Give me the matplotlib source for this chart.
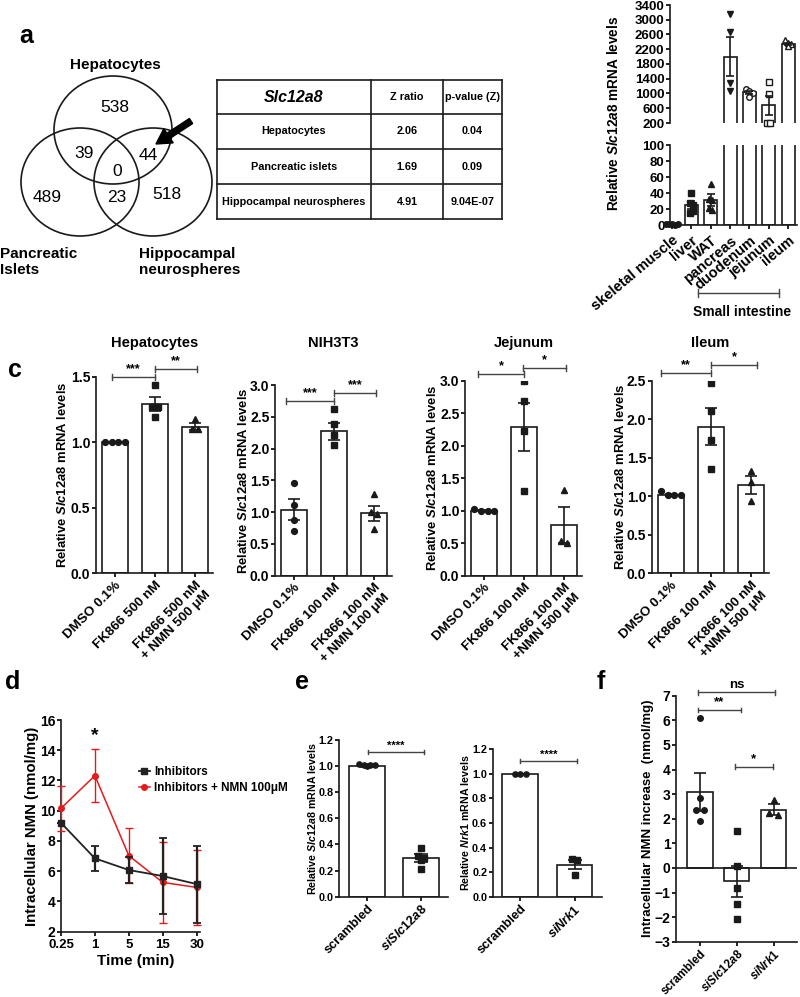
import matplotlib
matplotlib.use("Agg")
import matplotlib.pyplot as plt
import numpy as np
from matplotlib.lines import Line2D
from matplotlib.patches import Ellipse, FancyArrow

W, H = 800, 997
RED = "#e41a1c"
INK = "#1a1a1a"

# ---- panel a -------------------------------------------------------------
VENN_SETS = ["Hepatocytes", "Pancreatic\nIslets", "Hippocampal\nneurospheres"]
VENN_COUNTS = [538, 489, 518, 39, 44, 23, 0]  # hep, pan, hip, hep&pan, hep&hip, pan&hip, all
TABLE_HEADER = ["Slc12a8", "Z ratio", "p-value (Z)"]
TABLE_ROWS = ["Hepatocytes", "Pancreatic islets", "Hippocampal neurospheres"]
TABLE_Z = ["2.06", "1.69", "4.91"]
TABLE_P = ["0.04", "0.09", "9.04E-07"]

# ---- panel b -------------------------------------------------------------
B_TISSUES = ["skeletal muscle", "liver", "WAT", "pancreas", "duodenum", "jejunum", "ileum"]
B_MEANS = [1, 25, 31, 2000, 1030, 680, 2350]
B_SEMS = [0.3, 5, 7.5, 520, 45, 265, 30]
B_POINTS = [
    [1.5, 1.0, 0.8, 0.6, 1.1],
    [40, 27, 25, 15, 17],
    [51, 33, 31, 21, 19],
    [3160, 2660, 1280, 1070],
    [1120, 1080, 1010, 900],
    [1300, 990, 200, 200],
    [2440, 2380, 2330, 2300],
]
B_MARKERS = ["o", "s", "^", "v", "o", "s", "^"]
B_FILLED = [True, True, True, True, False, False, False]

# ---- panel c -------------------------------------------------------------
C_TITLES = ["Hepatocytes", "NIH3T3", "Jejunum", "Ileum"]
C_XLABELS = [
    ["DMSO 0.1%", "FK866 500 nM", "FK866 500 nM\n+ NMN 500 μM"],
    ["DMSO 0.1%", "FK866 100 nM", "FK866 100 nM\n+ NMN 100 μM"],
    ["DMSO 0.1%", "FK866 100 nM", "FK866 100 nM\n+NMN 500 μM"],
    ["DMSO 0.1%", "FK866 100 nM", "FK866 100 nM\n+NMN 500 μM"],
]
C_YMAX = [1.5, 3.0, 3.0, 2.5]
C_MEANS = [
    [1.00, 1.29, 1.12],
    [1.04, 2.27, 0.98],
    [1.00, 2.29, 0.78],
    [1.02, 1.90, 1.15],
]
C_SEMS = [
    [0.005, 0.055, 0.03],
    [0.17, 0.13, 0.12],
    [0.01, 0.37, 0.27],
    [0.015, 0.24, 0.115],
]
C_POINTS = [
    [[1.0, 1.0, 1.0, 1.0], [1.44, 1.27, 1.27, 1.19], [1.18, 1.10, 1.10]],
    [[1.46, 1.12, 0.88, 0.70], [2.62, 2.38, 2.21, 2.06], [1.28, 1.00, 0.97, 0.74]],
    [[1.02, 1.0, 1.0, 1.0], [3.0, 2.69, 2.23, 1.30], [1.32, 0.53, 0.50]],
    [[1.07, 1.02, 1.02, 1.02], [2.47, 2.11, 1.73, 1.35], [1.33, 1.18, 0.94]],
]
C_SIG = [
    [(-0.08, 1.0, 1.50, "***"), (1.0, 2.05, 1.56, "**")],
    [(-0.2, 1.0, 2.75, "***"), (1.0, 2.05, 2.87, "***")],
    [(-0.15, 1.0, 3.10, "*"), (0.97, 2.05, 3.20, "*")],
    [(-0.25, 1.0, 2.60, "**"), (1.0, 2.15, 2.70, "*")],
]
GROUP_MARKERS = ["o", "s", "^"]

# ---- panel d -------------------------------------------------------------
D_TIMES = ["0.25", "1", "5", "15", "30"]
D_INH = [9.2, 6.85, 6.08, 5.68, 5.15]
D_INH_ERR = [0.0, 0.85, 0.85, 2.5, 2.55]
D_NMN = [10.16, 12.32, 7.03, 5.26, 4.93]
D_NMN_ERR = [1.5, 1.75, 1.8, 2.7, 2.5]

# ---- panel e -------------------------------------------------------------
E_GROUPS = [["scrambled", r"$\mathit{siSlc12a8}$"], ["scrambled", r"$\mathit{siNrk1}$"]]
E_YLABELS = [r"Relative $\mathit{Slc12a8}$ mRNA levels", r"Relative $\mathit{Nrk1}$ mRNA levels"]
E_MEANS = [[1.0, 0.294], [1.0, 0.262]]
E_SEMS = [[0.005, 0.03], [0.002, 0.04]]
E_POINTS = [
    [[1.02, 1.005, 1.005, 1.005, 1.0], [0.37, 0.31, 0.30, 0.28, 0.21]],
    [[1.0, 1.0, 1.0], [0.31, 0.30, 0.18]],
]

# ---- panel f -------------------------------------------------------------
F_GROUPS = ["scrambled", r"$\mathit{siSlc12a8}$", r"$\mathit{siNrk1}$"]
F_MEANS = [3.10, -0.55, 2.36]
F_SEMS = [0.77, 0.64, 0.22]
F_POINTS = [[6.1, 2.85, 2.35, 2.35, 1.92], [1.5, 0.08, -0.83, -1.47, -2.09], [2.76, 2.24, 2.15]]


def style() -> None:
    plt.rcParams.update({
        "font.family": ["Liberation Sans", "DejaVu Sans"],
        "font.weight": "bold",
        "axes.labelweight": "bold",
        "mathtext.fontset": "custom",
        "mathtext.it": "Liberation Sans:italic:bold",
        "mathtext.rm": "Liberation Sans:bold",
        "mathtext.bf": "Liberation Sans:bold",
        "axes.linewidth": 1.2,
        "axes.edgecolor": INK,
        "xtick.major.width": 1.2,
        "ytick.major.width": 1.2,
        "xtick.major.size": 3,
        "ytick.major.size": 3,
        "xtick.major.pad": 1.2,
        "ytick.major.pad": 1.0,
    })


def axes_px(fig, left, top, right, bottom):
    return fig.add_axes([left / W, 1 - bottom / H, (right - left) / W, (bottom - top) / H])


def fig_text(fig, x, y, s, **kw):
    return fig.text(x / W, 1 - y / H, s, **kw)


def prism(ax, fs):
    for side in ("top", "right"):
        ax.spines[side].set_visible(False)
    ax.tick_params(labelsize=fs)


def swarm(values, tol, step):
    values = np.asarray(values, float)
    offsets = np.zeros(len(values))
    used = np.zeros(len(values), bool)
    for i in range(len(values)):
        if used[i]:
            continue
        cluster = [j for j in range(len(values)) if not used[j] and abs(values[j] - values[i]) < tol]
        for m, j in enumerate(cluster):
            offsets[j] = (m - (len(cluster) - 1) / 2) * step
            used[j] = True
    return offsets


def bar_panel(ax, means, sems, points, markers, width, tol, step, ms, capsize, filled=None):
    x = np.arange(len(means))
    ax.bar(x, means, width=width, color="white", edgecolor=INK, linewidth=1.2, zorder=1)
    for i, pts in enumerate(points):
        off = swarm(pts, tol, step)
        fc = INK if (filled is None or filled[i]) else "white"
        ax.plot(i + off, pts, linestyle="none", marker=markers[i], ms=ms, mfc=fc, mec=INK,
                mew=1.0, zorder=3)
    ax.errorbar(x, means, yerr=sems, fmt="none", ecolor=INK, elinewidth=1.2, capsize=capsize,
                capthick=1.2, zorder=4)


def bracket(ax, x0, x1, y, label, fs, tick):
    ax.plot([x0, x1], [y, y], color="#444", lw=1.0, clip_on=False)
    for xe in (x0, x1):
        ax.plot([xe, xe], [y - tick, y + tick], color="#444", lw=1.0, clip_on=False)
    ax.text((x0 + x1) / 2, y + tick * 0.6, label, ha="center", va="bottom", fontsize=fs,
            clip_on=False)


def panel_a(ov):
    centers = [(113, 130), (80, 182), (153, 182)]
    for cx, cy in centers:
        ov.add_patch(Ellipse((cx, cy), 118, 108, fill=False, lw=1.2, ec=INK))
    spots = [(115, 108), (47, 197), (167, 194), (84, 153), (148, 155), (117, 197), (117, 172)]
    for (x, y), n in zip(spots, VENN_COUNTS):
        ov.text(x, y, str(n), ha="center", va="center", fontsize=12.5, fontweight="normal")
    ov.text(115, 65, VENN_SETS[0], ha="center", va="center", fontsize=11)
    ov.text(0, 247, VENN_SETS[1], ha="left", va="top", fontsize=11, linespacing=1.15)
    ov.text(139, 247, VENN_SETS[2], ha="left", va="top", fontsize=11, linespacing=1.15)
    ov.add_patch(FancyArrow(191, 121, -35, 23, width=6, head_width=17, head_length=15,
                            length_includes_head=True, color="black"))

    xs = [217, 371, 443, 502]
    ys = [80, 114, 149, 184, 219]
    for y in ys:
        ov.plot([xs[0], xs[-1]], [y, y], color=INK, lw=1.2)
    for x in xs:
        ov.plot([x, x], [ys[0], ys[-1]], color=INK, lw=1.2)
    mid = [(xs[i] + xs[i + 1]) / 2 for i in range(3)]
    ov.text(mid[0], (ys[0] + ys[1]) / 2, TABLE_HEADER[0], ha="center", va="center",
            fontsize=11.5, fontstyle="italic")
    for i in (1, 2):
        ov.text(mid[i], (ys[0] + ys[1]) / 2, TABLE_HEADER[i], ha="center", va="center", fontsize=7.8)
    for r, (name, z, p) in enumerate(zip(TABLE_ROWS, TABLE_Z, TABLE_P)):
        yc = (ys[r + 1] + ys[r + 2]) / 2
        ov.text(mid[0], yc, name, ha="center", va="center", fontsize=7.8)
        ov.text(mid[1], yc, z, ha="center", va="center", fontsize=7.8)
        ov.text(mid[2], yc, p, ha="center", va="center", fontsize=7.8)


def panel_b(fig, ov):
    top = axes_px(fig, 670, 5, 797, 123)
    bot = axes_px(fig, 670, 145, 797, 225)
    x = np.arange(len(B_MEANS))
    for ax in (top, bot):
        prism(ax, 9.5)
        ax.bar(x, B_MEANS, width=0.68, color="white", edgecolor=INK, linewidth=1.2, zorder=1)
        ax.errorbar(x, B_MEANS, yerr=B_SEMS, fmt="none", ecolor=INK, elinewidth=1.2,
                    capsize=3, capthick=1.2, zorder=4)
        ax.set_xlim(-0.1, 6.45)
    for i, pts in enumerate(B_POINTS):
        pts = np.asarray(pts, float)
        off = swarm(pts, 0.04 * (3400 - 200) if B_MEANS[i] > 100 else 4, 0.16)
        fc = INK if B_FILLED[i] else "white"
        hi = pts >= 200
        kw = dict(linestyle="none", marker=B_MARKERS[i], ms=4, mfc=fc, mec=INK, mew=1.0,
                  zorder=3, clip_on=False)
        if hi.any():
            top.plot(i + off[hi], pts[hi], **kw)
        if (~hi).any():
            bot.plot(i + off[~hi], pts[~hi], **kw)
    top.set_ylim(200, 3400)
    top.set_yticks(np.arange(200, 3401, 400))
    top.spines["bottom"].set_visible(False)
    top.set_xticks([])
    bot.set_ylim(0, 100)
    bot.set_yticks(np.arange(0, 101, 20))
    bot.set_xticks(x)
    bot.set_xticklabels(B_TISSUES, rotation=40, ha="right", rotation_mode="anchor", fontsize=10.5)
    bot.tick_params(axis="x", pad=3)
    fig_text(fig, 614, 113, r"Relative $\mathit{Slc12a8}$ mRNA levels", rotation=90,
             ha="center", va="center", fontsize=9.8)
    ov.plot([698, 779], [293, 293], color="#444", lw=1.0)
    for xe in (698, 779):
        ov.plot([xe, xe], [289, 297], color="#444", lw=1.0)
    ov.text(742, 312, "Small intestine", ha="center", va="center", fontsize=10)


def panel_c(fig):
    rects = [(95.7, 376.7, 213, 573.3), (275, 385, 392, 575.7),
             (465, 380.7, 582, 575.7), (651.7, 380.7, 769, 573.3)]
    ylab_x = [63, 243, 432, 620]
    for k, (l, t, r, b) in enumerate(rects):
        ax = axes_px(fig, l, t, r, b)
        prism(ax, 10)
        ymax = C_YMAX[k]
        bar_panel(ax, C_MEANS[k], C_SEMS[k], C_POINTS[k], GROUP_MARKERS, 0.667,
                  0.03 * ymax, 0.17, 4.2, 4)
        ax.set_xlim(-0.48, 2.45)
        ax.set_ylim(0, ymax)
        ax.set_yticks(np.arange(0, ymax + 0.01, 0.5))
        ax.set_yticklabels([f"{v:.1f}" for v in np.arange(0, ymax + 0.01, 0.5)])
        ax.set_xticks(range(3))
        ax.set_xticklabels(C_XLABELS[k], rotation=45, ha="right", rotation_mode="anchor",
                           fontsize=9.7)
        for x0, x1, y, lab in C_SIG[k]:
            bracket(ax, x0, x1, y, lab, 9, 0.015 * ymax)
        fig_text(fig, (l + r) / 2, 343, C_TITLES[k], ha="center", va="center", fontsize=10.5)
        fig_text(fig, ylab_x[k], (t + b) / 2, r"Relative $\mathit{Slc12a8}$ mRNA levels",
                 rotation=90, ha="center", va="center", fontsize=9.4)


def panel_d(fig):
    ax = axes_px(fig, 61, 720, 200, 931.7)
    prism(ax, 10)
    ax.tick_params(axis="x", labelsize=9.5, pad=2.2)
    x = np.arange(len(D_TIMES))
    ax.errorbar(x, D_NMN, yerr=D_NMN_ERR, color=RED, marker="o", ms=4, lw=1.1,
                elinewidth=1.0, capsize=3, capthick=1.0, clip_on=False, zorder=3)
    ax.errorbar(x, D_INH, yerr=D_INH_ERR, color="#222", marker="s", ms=4, lw=1.3,
                elinewidth=1.6, capsize=3, capthick=1.3, clip_on=False, zorder=4)
    ax.set_xlim(0, 4.1)
    ax.set_ylim(2, 16)
    ax.set_yticks(np.arange(2, 17, 2))
    ax.set_xticks(x)
    ax.set_xticklabels(D_TIMES)
    ax.text(1, 14.95, "*", ha="center", va="center", fontsize=14)
    fig_text(fig, 32, 826, "Intracellular NMN (nmol/mg)", rotation=90, ha="center",
             va="center", fontsize=10.8)
    fig_text(fig, 136, 961, "Time (min)", ha="center", va="center", fontsize=11)
    handles = [Line2D([], [], color="#222", marker="s", ms=4, lw=1.3),
               Line2D([], [], color=RED, marker="o", ms=4, lw=1.1)]
    fig.legend(handles, ["Inhibitors", "Inhibitors + NMN 100μM"], loc="upper left",
               bbox_to_anchor=(139 / W, 1 - 766 / H), frameon=False,
               prop={"weight": "bold", "size": 8.5}, handlelength=0.9, handletextpad=0.4,
               labelspacing=0.35, borderpad=0, borderaxespad=0)


def panel_e(fig):
    rects = [(339.3, 740, 448.3, 896.7), (492.7, 749.3, 601.7, 896.7)]
    ylab_x = [312, 465]
    sig_x = [(0.02, 1.05, 1.108), (0.0, 1.04, 1.105)]
    for k, (l, t, r, b) in enumerate(rects):
        ax = axes_px(fig, l, t, r, b)
        prism(ax, 7.8)
        bar_panel(ax, E_MEANS[k], E_SEMS[k], E_POINTS[k], ["o", "s"], 0.66, 0.02, 0.1, 3.8, 5)
        ax.set_xlim(-0.51, 1.5)
        ax.set_ylim(0, 1.2)
        ax.set_yticks(np.arange(0, 1.21, 0.2))
        ax.set_yticklabels([f"{v:.1f}" for v in np.arange(0, 1.21, 0.2)])
        ax.set_xticks(range(2))
        ax.set_xticklabels(E_GROUPS[k], rotation=45, ha="right", rotation_mode="anchor",
                           fontsize=9.2)
        x0, x1, y = sig_x[k]
        bracket(ax, x0, x1, y, "****", 8, 0.015)
        fig_text(fig, ylab_x[k], (t + b) / 2, E_YLABELS[k], rotation=90, ha="center",
                 va="center", fontsize=7.7)


def panel_f(fig):
    ax = axes_px(fig, 676, 695.7, 796.7, 941.7)
    prism(ax, 10)
    bar_panel(ax, F_MEANS, F_SEMS, F_POINTS, ["o", "s", "^"], 0.69, 0.15, 0.24, 4, 4.5)
    ax.axhline(0, color=INK, lw=1.2, zorder=2)
    ax.set_xlim(-0.65, 2.63)
    ax.set_ylim(-3, 7)
    ax.set_yticks(np.arange(-3, 8, 1))
    ax.set_xticks(range(3))
    ax.set_xticklabels(F_GROUPS, rotation=45, ha="right", rotation_mode="anchor", fontsize=8.3)
    bracket(ax, -0.05, 2.04, 7.14, "ns", 9.5, 0.1)
    bracket(ax, -0.05, 1.11, 6.42, "**", 9.5, 0.1)
    bracket(ax, 0.95, 1.98, 4.11, "*", 9.5, 0.1)
    fig_text(fig, 648, 818, "Intracellular NMN increase  (nmol/mg)", rotation=90,
             ha="center", va="center", fontsize=9.5)


def main() -> None:
    style()
    fig = plt.figure(figsize=(W / 100, H / 100), dpi=100)
    ov = fig.add_axes([0, 0, 1, 1])
    ov.set_xlim(0, W)
    ov.set_ylim(H, 0)
    ov.axis("off")

    panel_a(ov)
    panel_b(fig, ov)
    panel_c(fig)
    panel_d(fig)
    panel_e(fig)
    panel_f(fig)

    for letter, x, y in [("a", 26, 36), ("b", 771, 37), ("c", 15, 370),
                         ("d", 13, 682), ("e", 302, 682), ("f", 601, 682)]:
        ov.text(x, y, letter, ha="center", va="center", fontsize=18)

    fig.savefig("out.png", dpi=100)
    plt.close(fig)


if __name__ == "__main__":
    main()
